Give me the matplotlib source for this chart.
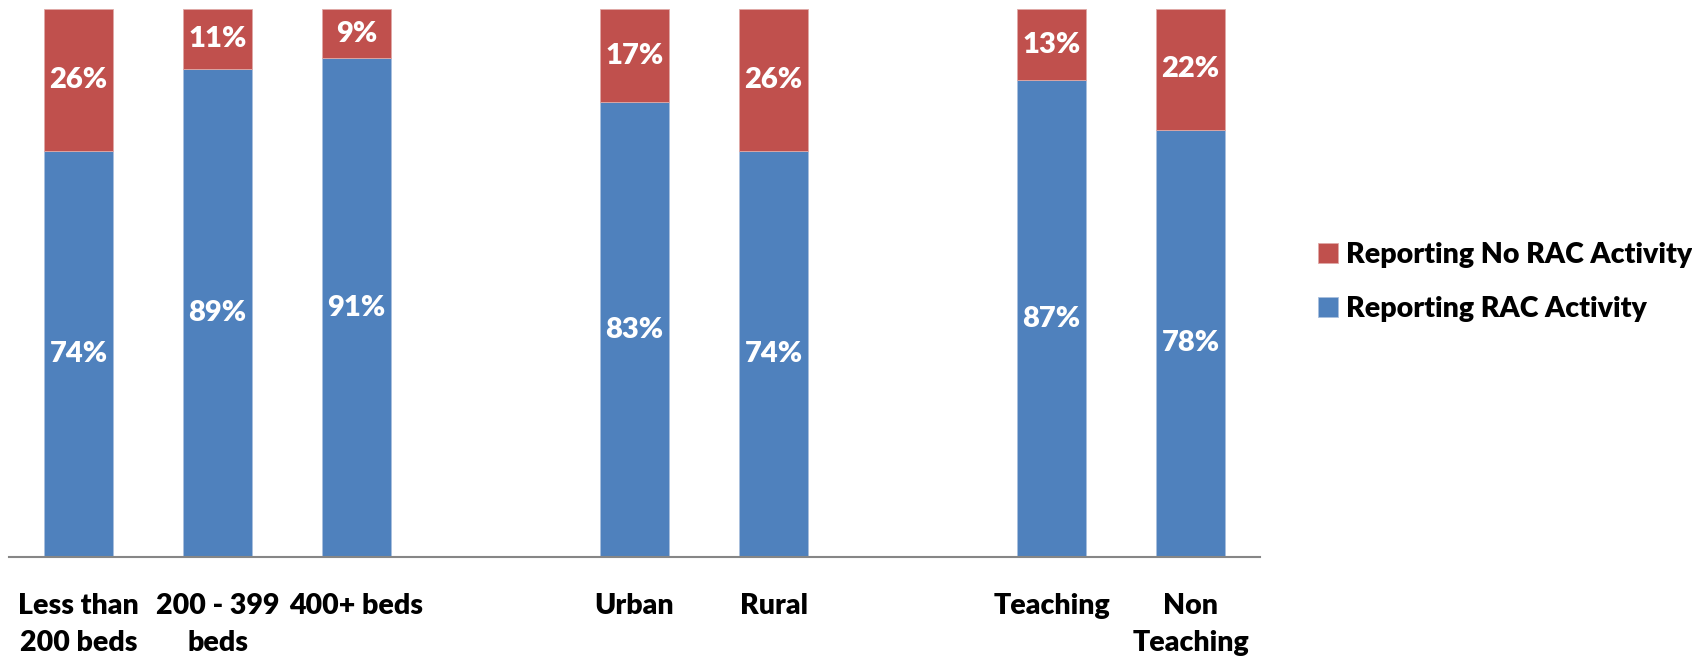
import matplotlib.pyplot as plt
import numpy as np

plt.rcParams['font.family'] = ['Lato', 'DejaVu Sans']
plt.rcParams['font.weight'] = 'bold'

categories = ["Less than\n200 beds", "200 - 399\nbeds", "400+ beds",
              "Urban", "Rural", "Teaching", "Non\nTeaching"]
slots = [0, 1, 2, 4, 5, 7, 8]
rac = [74, 89, 91, 83, 74, 87, 78]
no_rac = [26, 11, 9, 17, 26, 13, 22]

blue = "#4F81BD"
red = "#C0504D"

fig = plt.figure(figsize=(16.92, 6.58), dpi=100)
ax = fig.add_axes([9 / 1692, 101 / 658, 1251 / 1692, 548 / 658])

x = np.array(slots)
b1 = ax.bar(x, rac, width=0.5, color=blue, edgecolor="#a9c0de",
            linewidth=0.6, label="Reporting RAC Activity")
b2 = ax.bar(x, no_rac, width=0.5, bottom=rac, color=red, edgecolor="#e0a9a7",
            linewidth=0.6, label="Reporting No RAC Activity")

for xi, v in zip(x, rac):
    ax.text(xi, v / 2, f"{v}%", ha="center", va="center",
            color="white", fontsize=21, fontweight="heavy")
for xi, v, b in zip(x, no_rac, rac):
    ax.text(xi, b + v / 2, f"{v}%", ha="center", va="center",
            color="white", fontsize=21, fontweight="heavy")

ax.set_xlim(-0.5, 8.5)
ax.set_ylim(0, 100)
ax.set_xticks(x)
ax.set_xticklabels(categories, fontsize=20.5, fontweight="heavy",
                   linespacing=1.5, va="top")
ax.tick_params(axis="x", length=0, pad=26)
ax.set_yticks([])
for s in ["top", "left", "right"]:
    ax.spines[s].set_visible(False)
ax.spines["bottom"].set_color("#868686")
ax.spines["bottom"].set_linewidth(1.5)

handles = [b2, b1]
leg = fig.legend(handles, [h.get_label() for h in handles],
                 loc="center left", bbox_to_anchor=(1292 / 1692, 1 - 282 / 658),
                 frameon=False, handlelength=0.7, handleheight=0.7,
                 handletextpad=0.3, labelspacing=1.0,
                 prop={"size": 20.5, "weight": "heavy"})

fig.savefig("out.png", dpi=100)
